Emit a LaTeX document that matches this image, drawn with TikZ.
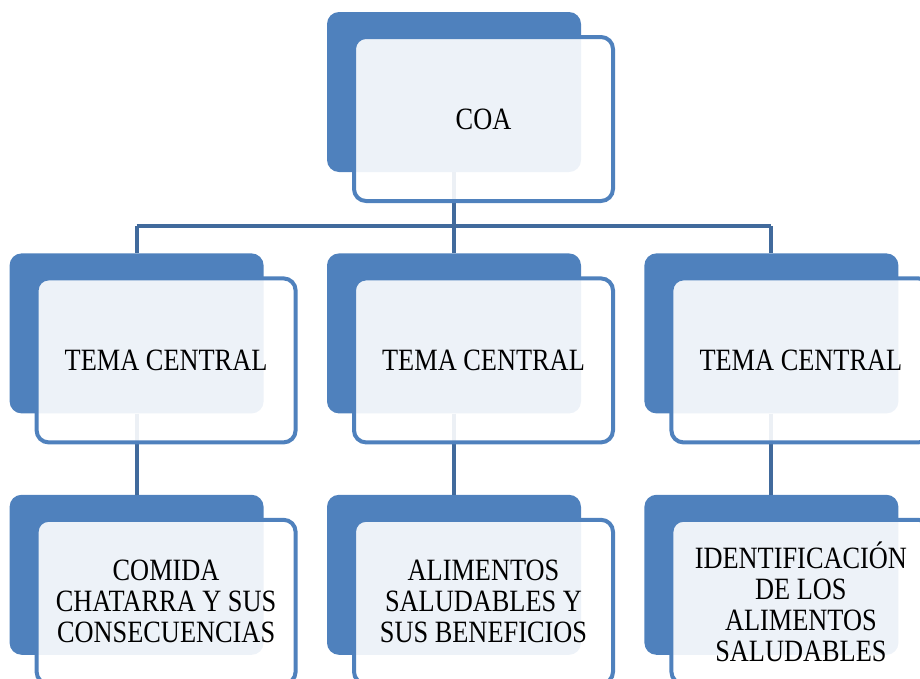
\documentclass[tikz,border=0pt]{standalone}
\usepackage{fontspec}
\setmainfont{Liberation Serif}[FakeStretch=0.85]
\usepackage{xcolor}
\usetikzlibrary{positioning}

\definecolor{boxblue}{HTML}{4F81BD}
\definecolor{lineblue}{HTML}{416A9C}

\begin{document}
\begin{tikzpicture}[x=1pt,y=-1pt,node distance=81pt and 63pt,
      back node/.style={rectangle,rounded corners=12pt,fill=boxblue,draw=none,
        minimum width=254pt,minimum height=160pt,inner sep=0pt},
      front node/.style={rectangle,rounded corners=12pt,draw=boxblue,line width=4pt,
        fill=white,fill opacity=0.9,text opacity=1,
        minimum width=259pt,minimum height=164pt,align=center,
        font=\fontsize{31}{31}\selectfont},
      conn/.style={draw=lineblue,line width=4pt}]

    \useasboundingbox (0,0) rectangle (920,678);
    \clip (0,0) rectangle (920,678);

        % back boxes
        \node[back node] (coa) at (454,92) {};
        \node[back node] (tema2) [below=of coa] {};
        \node[back node] (tema1) [left=of tema2] {};
        \node[back node] (tema3) [right=of tema2] {};
        \node[back node] (sub1) [below=of tema1] {};
        \node[back node] (sub2) [below=of tema2] {};
        \node[back node] (sub3) [below=of tema3] {};

        % connectors
        \coordinate (bar) at (454,226);
        \path[conn]
            (coa.south) edge (bar)
            (tema1.north) edge (tema1.north |- bar)
            (tema3.north) edge (tema3.north |- bar)
            (tema2.north) edge (bar)
            (tema1.south) edge (sub1.north)
            (tema2.south) edge (sub2.north)
            (tema3.south) edge (sub3.north)
        ;
        \draw[conn] (tema1.north |- bar) -- (tema3.north |- bar);

        % front boxes
        \node[front node] (coaF) at ([shift={(29.5,27)}]coa) {COA};
        \node[front node] (tema1F) at ([shift={(29.5,27)}]tema1) {TEMA CENTRAL};
        \node[front node] (tema2F) at ([shift={(29.5,27)}]tema2) {TEMA CENTRAL};
        \node[front node] (tema3F) at ([shift={(29.5,27)}]tema3) {TEMA CENTRAL};
        \node[front node] (sub1F) at ([shift={(29.5,27)}]sub1) {COMIDA\\CHATARRA Y SUS\\CONSECUENCIAS};
        \node[front node] (sub2F) at ([shift={(29.5,27)}]sub2) {ALIMENTOS\\SALUDABLES Y\\SUS BENEFICIOS};
        \node[front node] (sub3F) at ([shift={(29.5,27)}]sub3) {IDENTIFICACIÓN\\DE LOS\\ALIMENTOS\\SALUDABLES};
    \end{tikzpicture}
\end{document}
